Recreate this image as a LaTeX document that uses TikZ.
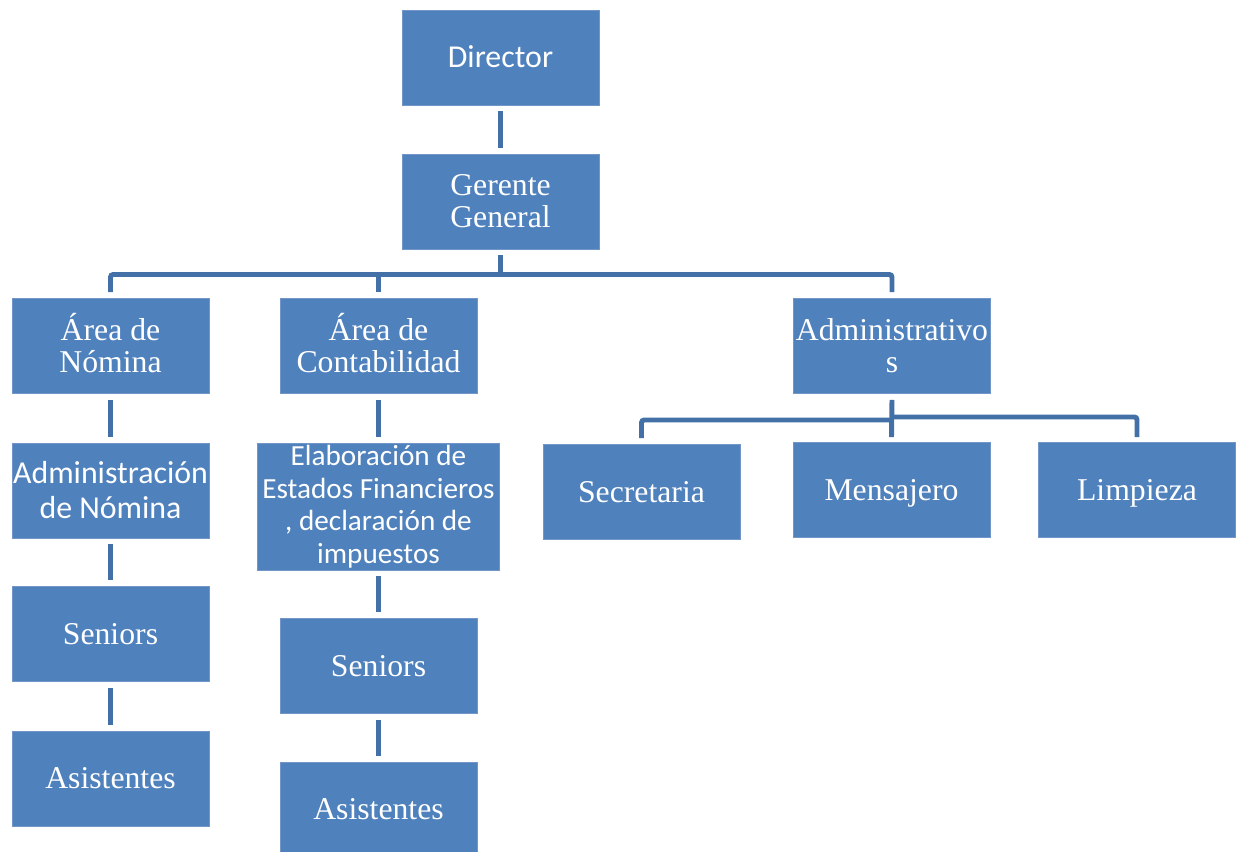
\documentclass[tikz,border=0pt]{standalone}
\usepackage{fontspec}
\setmainfont{Liberation Serif}
\newfontfamily\calib{Carlito}
\definecolor{boxblue}{HTML}{4F81BD}
\definecolor{boxedge}{HTML}{7396C9}
\definecolor{linkblue}{HTML}{4470A8}
\begin{document}
\begin{tikzpicture}[x=0.75pt,y=-0.75pt,
  unit/.style={rectangle, fill=boxblue, draw=boxedge, line width=0.6pt,
    text=white, align=center, inner sep=0pt,
    minimum width=147.75pt, minimum height=71.25pt},
  serifbox/.style={unit, font=\fontsize{23.8}{24}\selectfont},
  sansbox/.style={unit, font=\calib\fontsize{23.9}{26.2}\selectfont},
  oneline/.style={text height=15.5pt, text depth=0pt},
  link/.style={draw=linkblue, line width=3.7pt},
  gap/.style={link, shorten <=4.5pt, shorten >=4.5pt}]
\useasboundingbox (0,0) rectangle (1240,852);

% top of the chart
\node[sansbox, oneline] (dir) at (500.5,57.5)  {Director};
\node[serifbox] (ger) at (500.5,201.5) {Gerente\\General};

% areas (the accent is kept out of the line height)
\node[serifbox] (nom) at (110.5,346) {\smash{Á}rea de\\Nómina};
\node[serifbox] (con) at (378.5,346) {\smash{Á}rea de\\Contabilidad};
\node[serifbox] (adm) at (892,346)   {Administrativo\\s};

% payroll column
\node[sansbox]  (admnom) at (110.5,490.5) {Administración\\de Nómina};
\node[serifbox, oneline] (sen1) at (110.5,634)   {Seniors};
\node[serifbox, oneline] (asi1) at (110.5,778.5) {Asistentes};

% accounting column
\node[sansbox, minimum width=181.5pt, minimum height=95.25pt,
  font=\calib\fontsize{21.9}{24.4}\selectfont]
  (elab) at (378.5,506.5) {Elaboración de\\Estados Financieros\\, declaración de\\impuestos};
\node[serifbox, oneline] (sen2) at (378.5,666)   {Seniors};
\node[serifbox, oneline] (asi2) at (378.5,809.5) {Asistentes};

% administrative staff
\node[serifbox, oneline] (sec) at (641.5,492) {Secretaria};
\node[serifbox, oneline] (men) at (891.5,490) {Mensajero};
\node[serifbox, oneline] (lim) at (1137,490)  {Limpieza};

% junction lines
\coordinate (bar)  at (500,274.5);
\coordinate (barL) at (700,420);
\coordinate (barR) at (1000,417);

% connectors
\draw[gap] (dir.south) -- (ger.north);
\draw[link] ([yshift=-4.5pt]ger.south) -- (ger.south |- bar);
\draw[link, rounded corners=2pt] ([yshift=4.5pt]nom.north) -- (nom.north |- bar)
  -- (adm.north |- bar) -- ([yshift=4.5pt]adm.north);
\draw[link] (con.north |- bar) -- ([yshift=4.5pt]con.north);

\draw[gap] (nom.south) -- (admnom.north);
\draw[gap] (admnom.south) -- (sen1.north);
\draw[gap] (sen1.south) -- (asi1.north);

\draw[gap] (con.south) -- (elab.north);
\draw[gap] (elab.south) -- (sen2.north);
\draw[gap] (sen2.south) -- (asi2.north);

\draw[link] ([yshift=-4.5pt]adm.south) -- ([yshift=3.75pt]men.north);
\draw[link, rounded corners=2pt] ([yshift=4.5pt]sec.north) -- (sec.north |- barL)
  -- (adm.south |- barL);
\draw[link, rounded corners=2pt] (adm.south |- barR) -- (lim.north |- barR)
  -- ([yshift=3.75pt]lim.north);
\end{tikzpicture}
\end{document}
